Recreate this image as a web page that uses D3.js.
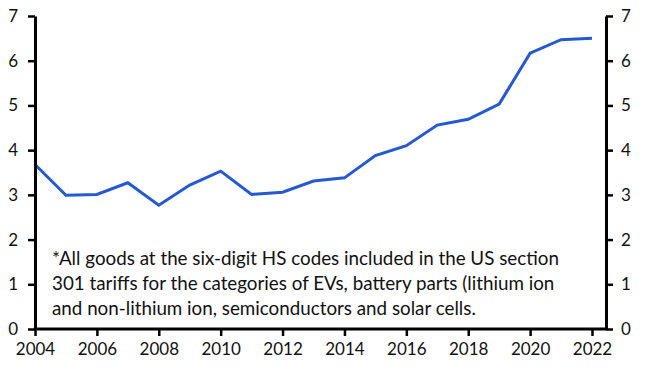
<!DOCTYPE html>
<html><head><meta charset="utf-8">
<script src="https://cdn.jsdelivr.net/npm/d3@7"></script>
<style>body{margin:0;background:#fff}svg{display:block}</style>
</head><body>
<svg id="c" width="646" height="373"></svg>
<script>
const years = [2004,2005,2006,2007,2008,2009,2010,2011,2012,2013,2014,2015,2016,2017,2018,2019,2020,2021,2022];
const values = [3.68,2.99,3.01,3.27,2.77,3.22,3.53,3.01,3.06,3.31,3.38,3.88,4.10,4.56,4.69,5.03,6.17,6.47,6.50];
const xTicks = [2004,2006,2008,2010,2012,2014,2016,2018,2020,2022];
const yTicks = [0,1,2,3,4,5,6,7];
const note = [
  "*All goods at the six-digit HS codes included in the US section",
  "301 tariffs for the categories of EVs, battery parts (lithium ion",
  "and non-lithium ion, semiconductors and solar cells."
];

const svg = d3.select("#c");
const L = 35, R = 606, T = 16, B = 329;
const x = d3.scaleLinear().domain([2004,2022]).range([L,592]);
const y = d3.scaleLinear().domain([0,7]).range([B,T]);
const font = "Lato, 'Open Sans', sans-serif";

// line
svg.append("path").datum(values.map((v,i)=>[years[i],v]))
  .attr("fill","none").attr("stroke","#2459d3").attr("stroke-width",3)
  .attr("stroke-linejoin","miter")
  .attr("d", d3.line().x(d=>x(d[0])).y(d=>y(d[1])));

// axes
const gl = svg.append("g").attr("transform",`translate(${L},0)`)
  .call(d3.axisLeft(y).tickValues(yTicks).tickFormat(d3.format("d")).tickSize(7).tickPadding(10).tickSizeOuter(0));
const gr = svg.append("g").attr("transform",`translate(${R},0)`)
  .call(d3.axisRight(y).tickValues(yTicks).tickFormat(d3.format("d")).tickSize(7).tickPadding(8).tickSizeOuter(0));
const gb = svg.append("g").attr("transform",`translate(0,${B})`)
  .call(d3.axisBottom(x).tickValues(xTicks).tickFormat(d3.format("d")).tickSize(7).tickPadding(7).tickSizeOuter(0));
gb.select(".domain").attr("d",`M${L},0H${R}`);
[gl,gr,gb].forEach(g=>{
  g.select(".domain").attr("stroke","#000").attr("stroke-width",3);
  g.selectAll(".tick line").attr("stroke","#000").attr("stroke-width",2.5);
  g.selectAll(".tick text").attr("fill","#111").style("font-family",font).style("font-size","17px");
});

// note
svg.append("g").selectAll("text").data(note).join("text")
  .attr("x",52).attr("y",(d,i)=>265+i*25)
  .style("font-family",font).style("font-size","18.8px").attr("fill","#111")
  .text(d=>d);
</script>
</body></html>
